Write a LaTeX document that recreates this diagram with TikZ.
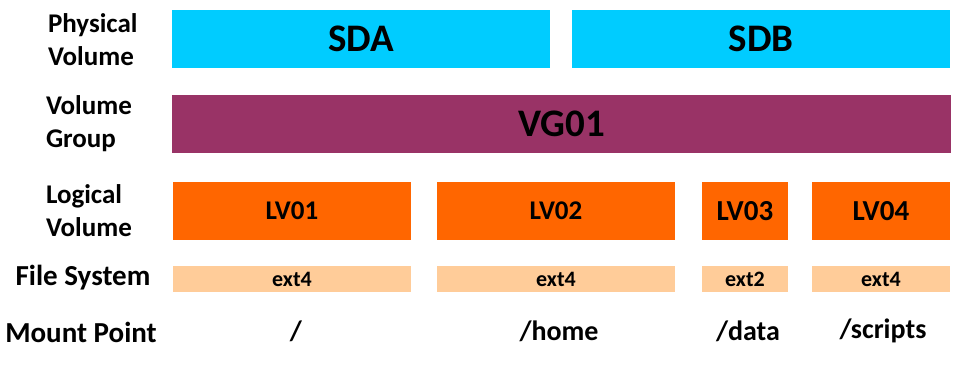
\documentclass[tikz,border=0pt]{standalone}
\usepackage{fontspec}
\setmainfont{Carlito}
\usetikzlibrary{positioning}
\definecolor{pvcyan}{HTML}{00CCFF}
\definecolor{vgplum}{HTML}{993366}
\definecolor{lvorange}{HTML}{FF6600}
\definecolor{fspeach}{HTML}{FFCC99}
\begin{document}
\begin{tikzpicture}[x=1pt, y=-1pt,
    every node/.style={rectangle, inner sep=0pt, outer sep=0pt, text=black},
    bigbox/.style={minimum height=58pt, font=\bfseries\fontsize{39}{47}\selectfont},
    pvbox/.style={bigbox, fill=pvcyan, minimum width=378pt},
    vgbox/.style={bigbox, fill=vgplum, minimum width=779pt},
    lvbox/.style={fill=lvorange, minimum height=58pt, font=\bfseries\fontsize{27}{32}\selectfont},
    fsbox/.style={fill=fspeach, minimum height=26pt, font=\bfseries\fontsize{22}{26}\selectfont},
    rowlabel/.style={align=left, font=\bfseries\fontsize{27}{33}\selectfont},
    mountlabel/.style={font=\bfseries\fontsize{28}{34}\selectfont}
  ]
  \useasboundingbox (0,0) rectangle (969,367);

  \node[rowlabel, anchor=west] (pvlabel) at (48,40) {Physical\\Volume};
  \node[rowlabel, anchor=west] (vglabel) at (46,124) {Volume\\Group};
  \node[rowlabel, anchor=west] (lvlabel) at (46,211) {Logical\\Volume};
  \node[rowlabel, font=\bfseries\fontsize{29}{34}\selectfont] (fslabel) at (83,278) {File System};
  \node[rowlabel, font=\bfseries\fontsize{29}{34}\selectfont] (mplabel) at (81,332) {Mount Point};

  \node[pvbox] (sda) at (361,39) {SDA};
  \node[pvbox] (sdb) at (761,39) {SDB};

  \node[vgbox] (vg) at (561.5,124) {VG01};

  \node[lvbox, minimum width=238pt] (lv1) at (292,211) {LV01};
  \node[lvbox, minimum width=238pt] (lv2) at (556,211) {LV02};
  \node[lvbox, minimum width=86pt, font=\bfseries\fontsize{29}{34}\selectfont] (lv3) at (745,211) {LV03};
  \node[lvbox, minimum width=138pt, font=\bfseries\fontsize{29}{34}\selectfont] (lv4) at (881,211) {LV04};

  \node[fsbox, minimum width=238pt] (fs1) at (lv1 |- 0,279) {ext4};
  \node[fsbox, minimum width=238pt] (fs2) at (lv2 |- 0,279) {ext4};
  \node[fsbox, minimum width=86pt] (fs3) at (lv3 |- 0,279) {ext2};
  \node[fsbox, minimum width=138pt] (fs4) at (lv4 |- 0,279) {ext4};

  \node[mountlabel] (mnt1) at (296,331) {/};
  \node[mountlabel] (mnt2) at (559,331) {/home};
  \node[mountlabel] (mnt3) at (748,331) {/data};
  \node[mountlabel] (mnt4) at (883,331) {/scripts};
\end{tikzpicture}
\end{document}
